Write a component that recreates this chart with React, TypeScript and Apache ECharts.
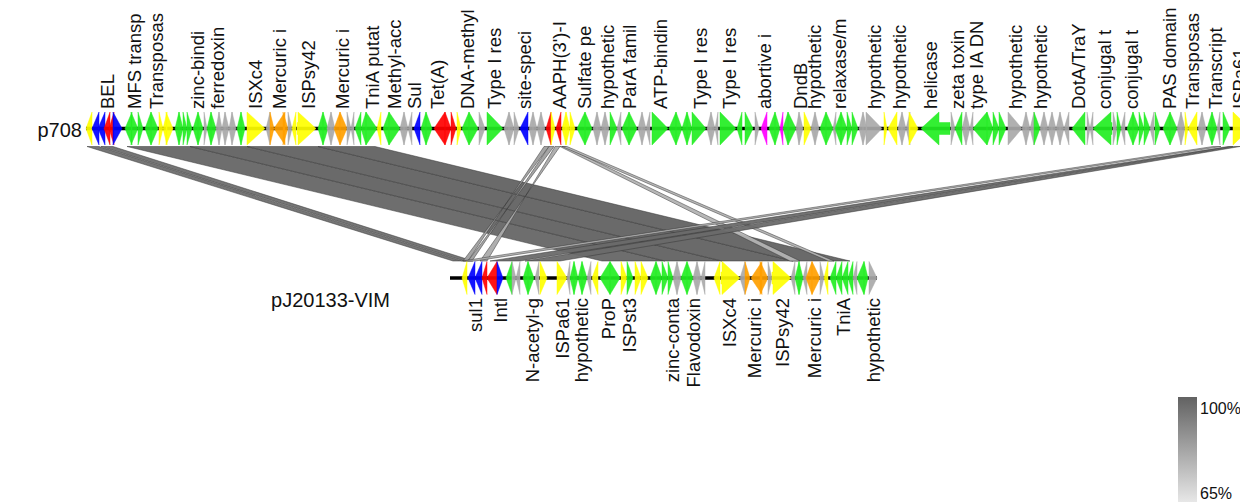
import React, { useEffect, useRef } from "react";
import * as echarts from "echarts";

// ---------- DATA (positions in kb along each plasmid) ----------
const trackNames = ["p708", "pJ20133-VIM"];
const trackLengths = [120, 42.5];

// [start kb, end kb, strand, colour key]
const topGenes: [number, number, number, string][] = [
  [0.0, 0.6, -1, "y"], [0.6, 1.3, -1, "b"], [1.2, 1.9, -1, "b"], [1.8, 2.4, -1, "r"], [2.3, 2.8, -1, "r"],
  [2.7, 3.6, 1, "b"], [3.9, 4.6, -1, "g"], [4.5, 5.2, 1, "g"], [5.2, 5.7, 1, "g"], [5.9, 6.5, -1, "g"],
  [6.5, 7.2, 1, "g"], [7.3, 7.7, 1, "y"], [7.7, 8.1, -1, "y"], [8.0, 8.7, 1, "y"], [8.9, 9.3, -1, "g"],
  [9.3, 9.7, 1, "g"], [9.7, 10.1, 1, "g"], [10.1, 10.6, 1, "g"], [10.7, 11.2, -1, "g"], [11.2, 11.7, 1, "g"],
  [11.8, 12.1, 1, "x"], [12.1, 12.5, -1, "g"], [12.5, 13.0, 1, "g"], [13.0, 13.3, -1, "x"], [13.3, 13.6, 1, "x"],
  [13.6, 13.9, -1, "x"], [13.9, 14.3, 1, "x"], [14.3, 14.6, -1, "x"], [14.6, 15.0, 1, "x"], [15.1, 15.5, -1, "g"],
  [15.5, 15.9, 1, "g"], [16.1, 17.9, 1, "y"], [18.0, 18.4, -1, "x"], [18.4, 18.8, 1, "o"], [18.8, 19.9, -1, "o"],
  [19.7, 20.2, 1, "o"], [20.2, 20.6, 1, "x"], [20.6, 21.0, -1, "y"], [21.1, 23.0, 1, "y"], [23.2, 23.7, -1, "g"],
  [23.7, 24.2, 1, "g"], [24.1, 24.5, -1, "x"], [24.5, 24.9, 1, "x"], [24.8, 25.4, -1, "o"], [25.4, 26.1, 1, "o"],
  [26.1, 26.5, 1, "x"], [26.5, 26.8, -1, "x"], [26.9, 27.5, -1, "g"], [27.5, 28.0, -1, "g"], [28.0, 29.1, 1, "g"],
  [29.1, 29.5, -1, "y"], [29.7, 30.3, -1, "g"], [30.3, 31.4, 1, "g"], [31.4, 31.8, -1, "x"], [31.8, 32.2, 1, "x"],
  [32.2, 32.6, -1, "x"], [32.8, 33.4, -1, "b"], [33.5, 34.0, -1, "g"], [34.0, 34.6, 1, "g"], [34.8, 35.9, -1, "r"],
  [35.9, 36.5, 1, "r"], [36.5, 37.0, 1, "r"], [37.1, 37.5, 1, "y"], [37.6, 38.3, -1, "g"], [38.3, 39.2, 1, "g"],
  [39.3, 39.9, 1, "x"], [40.1, 41.7, 1, "g"], [41.8, 42.3, -1, "x"], [42.3, 42.8, 1, "x"], [42.8, 43.3, 1, "x"],
  [43.4, 44.2, -1, "b"], [44.3, 44.7, -1, "x"], [44.7, 45.1, 1, "x"], [45.1, 45.5, -1, "x"], [45.5, 45.9, 1, "x"],
  [46.0, 46.5, -1, "r"], [46.5, 46.9, 1, "y"], [47.0, 47.5, -1, "r"], [47.6, 48.0, -1, "y"], [48.0, 48.4, 1, "y"],
  [48.4, 48.9, 1, "y"], [49.1, 49.9, -1, "g"], [49.9, 50.6, 1, "g"], [50.7, 51.1, -1, "x"], [51.1, 51.5, 1, "x"],
  [51.5, 51.9, -1, "x"], [51.9, 52.3, 1, "x"], [52.4, 53.1, 1, "g"], [53.1, 53.5, -1, "x"], [53.6, 54.3, -1, "g"],
  [54.3, 55.1, 1, "g"], [55.2, 55.6, -1, "x"], [55.6, 56.0, 1, "x"], [56.0, 56.4, -1, "x"], [56.6, 58.2, 1, "g"],
  [58.3, 59.0, -1, "g"], [59.0, 59.6, 1, "g"], [59.6, 60.1, -1, "g"], [60.1, 60.6, 1, "g"], [60.6, 62.0, 1, "g"],
  [62.1, 62.5, -1, "x"], [62.5, 62.9, 1, "x"], [62.9, 63.2, -1, "x"], [63.4, 65.0, 1, "g"], [65.1, 65.6, -1, "g"],
  [65.9, 66.7, 1, "g"], [66.9, 67.3, 1, "x"], [67.5, 68.1, -1, "m"], [68.3, 68.9, -1, "g"], [68.9, 69.4, 1, "g"],
  [69.4, 69.7, -1, "m"], [69.7, 70.2, -1, "g"], [70.2, 71.0, 1, "g"], [71.0, 71.3, -1, "x"], [71.3, 71.7, 1, "x"],
  [71.8, 72.5, 1, "y"], [72.5, 72.9, -1, "x"], [72.9, 73.3, 1, "x"], [73.4, 74.0, -1, "g"], [74.0, 74.7, 1, "g"],
  [74.7, 75.0, -1, "x"], [74.9, 75.5, -1, "g"], [75.5, 76.1, 1, "g"], [76.1, 76.6, 1, "g"], [76.6, 77.2, 1, "g"],
  [77.3, 77.7, -1, "x"], [77.7, 78.1, 1, "x"], [78.0, 79.6, 1, "x"], [79.8, 80.1, 1, "y"], [80.2, 81.1, -1, "y"],
  [81.2, 81.6, -1, "x"], [81.6, 82.0, 1, "x"], [82.0, 82.4, -1, "x"], [82.3, 83.2, 1, "y"], [83.5, 86.4, -1, "g"],
  [86.5, 86.9, 1, "x"], [86.9, 87.6, -1, "g"], [87.6, 88.0, -1, "x"], [88.0, 88.4, 1, "x"], [88.4, 88.7, -1, "x"],
  [88.7, 90.1, -1, "g"], [90.1, 90.7, 1, "g"], [90.7, 91.3, 1, "g"], [91.3, 92.0, 1, "g"], [92.2, 93.6, 1, "x"],
  [93.6, 94.0, -1, "x"], [94.0, 94.4, 1, "x"], [94.4, 94.8, -1, "x"], [94.8, 95.4, 1, "g"], [95.4, 95.8, -1, "x"],
  [95.8, 96.2, 1, "x"], [96.2, 96.6, -1, "x"], [96.6, 97.0, 1, "x"], [97.0, 97.4, -1, "x"], [97.4, 97.8, 1, "x"],
  [97.8, 98.3, -1, "x"], [98.6, 99.9, -1, "g"], [100.1, 100.4, 1, "x"], [100.4, 100.7, -1, "x"], [100.7, 102.6, -1, "g"],
  [102.7, 103.1, 1, "x"], [103.1, 103.5, 1, "g"], [103.5, 103.9, -1, "x"], [104.1, 104.7, -1, "g"], [104.7, 105.3, 1, "g"],
  [105.3, 105.8, 1, "g"], [105.8, 106.4, 1, "g"], [106.4, 106.8, -1, "x"], [106.9, 107.4, 1, "g"], [107.7, 108.4, -1, "g"],
  [108.4, 109.1, 1, "g"], [109.1, 109.5, -1, "x"], [109.5, 109.9, 1, "x"], [109.9, 110.2, 1, "y"], [110.2, 111.1, -1, "y"],
  [111.2, 111.6, -1, "x"], [111.6, 112.0, 1, "x"], [112.1, 112.6, -1, "g"], [112.6, 113.1, 1, "g"], [113.1, 113.4, -1, "x"],
  [113.7, 114.4, 1, "g"], [114.7, 116.4, 1, "y"],
];

const topLabels: [number, string][] = [
  [2.1, "BEL"], [4.8, "MFS transp"], [7.0, "Transposas"], [11.1, "zinc-bindi"], [13.1, "ferredoxin"],
  [16.9, "ISXc4"], [19.3, "Mercuric i"], [22.2, "ISPsy42"], [25.6, "Mercuric i"], [28.6, "TniA putat"],
  [30.8, "Methyl-acc"], [32.8, "Sul"], [35.1, "Tet(A)"], [38.1, "DNA-methyl"], [40.8, "Type I res"],
  [43.8, "site-speci"], [47.3, "AAPH(3')-I"], [49.8, "Sulfate pe"], [52.1, "hypothetic"], [54.3, "ParA famil"],
  [57.4, "ATP-bindin"], [61.4, "Type I res"], [64.3, "Type I res"], [67.8, "abortive i"], [71.4, "DndB"],
  [72.85, "hypothetic"], [75.3, "relaxase/m"], [78.8, "hypothetic"], [81.3, "hypothetic"], [84.4, "helicase"],
  [87.1, "zeta toxin"], [89.0, "type IA DN"], [92.9, "hypothetic"], [95.4, "hypothetic"], [99.2, "DotA/TraY"],
  [101.8, "conjugal t"], [104.5, "conjugal t"], [108.3, "PAS domain"], [110.6, "Transposas"], [112.9, "Transcript"],
  [115.3, "ISPa61"],
];

const bottomGenes: [number, number, number, string][] = [
  [1.0, 1.5, -1, "y"], [1.6, 2.3, -1, "b"], [2.3, 3.0, -1, "b"], [3.0, 3.5, -1, "r"], [3.5, 4.5, -1, "r"],
  [4.5, 5.1, 1, "b"], [5.4, 6.0, -1, "g"], [6.0, 6.4, 1, "x"], [6.4, 6.8, -1, "x"], [7.1, 7.6, -1, "g"],
  [7.6, 8.2, 1, "g"], [8.3, 8.7, -1, "x"], [8.8, 9.5, 1, "y"], [10.5, 11.5, 1, "y"], [11.5, 11.8, -1, "x"],
  [11.8, 12.2, -1, "g"], [12.2, 12.6, 1, "g"], [12.6, 13.0, -1, "g"], [13.0, 13.5, 1, "g"], [13.5, 13.9, -1, "x"],
  [14.0, 14.6, -1, "y"], [14.8, 15.8, -1, "g"], [15.8, 16.8, 1, "g"], [16.9, 17.5, 1, "y"], [17.5, 18.1, 1, "g"],
  [18.3, 18.9, 1, "y"], [18.9, 19.6, 1, "y"], [19.8, 20.4, -1, "g"], [20.4, 21.0, 1, "g"], [21.0, 21.6, 1, "g"],
  [21.6, 22.1, 1, "g"], [22.1, 22.5, -1, "x"], [22.5, 22.9, 1, "x"], [22.9, 23.5, -1, "g"], [23.5, 24.1, 1, "g"],
  [24.1, 24.5, -1, "x"], [24.5, 24.9, 1, "x"], [24.9, 25.3, -1, "x"], [26.2, 26.8, -1, "y"], [26.9, 28.8, 1, "y"],
  [28.8, 29.3, -1, "x"], [29.3, 29.8, 1, "o"], [29.9, 31.0, -1, "o"], [30.8, 31.6, 1, "o"], [31.6, 32.0, 1, "x"],
  [32.0, 33.9, 1, "y"], [33.9, 34.3, -1, "x"], [34.3, 34.7, -1, "g"], [34.7, 35.1, 1, "g"], [35.1, 35.5, -1, "x"],
  [35.4, 36.0, -1, "o"], [36.0, 36.8, 1, "o"], [36.8, 37.2, 1, "x"], [37.2, 37.6, -1, "y"], [37.8, 38.4, -1, "g"],
  [38.4, 39.0, -1, "g"], [39.0, 39.6, -1, "g"], [39.6, 40.1, -1, "g"], [40.1, 40.5, -1, "x"], [40.5, 41.2, -1, "g"],
  [41.2, 41.6, 1, "g"], [41.7, 42.5, 1, "x"],
];

const bottomLabels: [number, string][] = [
  [2.3, "sul1"], [4.8, "Intl"], [8.0, "N-acetyl-g"], [11.0, "ISPa61"], [12.9, "hypothetic"], [15.6, "ProP"],
  [17.7, "ISPst3"], [22.0, "zinc-conta"], [24.1, "Flavodoxin"], [27.7, "ISXc4"], [30.2, "Mercuric i"],
  [33.0, "ISPsy42"], [36.2, "Mercuric i"], [39.1, "TniA"], [42.1, "hypothetic"],
];

// BLAST hits: [top start, top end, bottom start, bottom end, identity %]
const links: [number, number, number, number, number][] = [
  [0.1, 1.3, 0.1, 1.0, 97], [1.5, 2.7, 1.2, 2.1, 97],
  [4.1, 10.4, 15.0, 21.3, 99], [10.4, 16.1, 21.3, 27.0, 100], [16.1, 23.2, 27.0, 34.1, 100], [23.2, 28.9, 34.1, 39.8, 100],
  [45.8, 46.3, 1.6, 1.1, 85], [46.3, 46.8, 2.0, 1.6, 85], [46.9, 47.4, 3.5, 2.8, 82], [47.4, 47.9, 33.8, 34.8, 80], [47.6, 48.1, 37.6, 38.2, 80],
  [114.2, 114.7, 3.8, 6.8, 98], [114.8, 115.4, 7.3, 10.8, 98], [112.7, 113.5, 1.0, 2.3, 80],
];

const legendTicks = ["100%", "65%"];
const identityRange = [65, 100];

// ---------- LAYOUT / STYLE ----------
const W = 1240, H = 502;
const GRID_LEFT = 86;
const BOTTOM_OFFSET = 36.6; // kb shift of the lower track against the upper one
const TOP_Y = 128.5, BOT_Y = 278;
const GENE_HALF = 16.5, SHAFT_HALF = 6, HEAD = 18;
const FONT = "Liberation Sans, Arial, Helvetica, sans-serif";
const COLORS: Record<string, string> = {
  g: "#22ee22", y: "#ffff00", b: "#0000ff", r: "#ff0000", o: "#ffa000", m: "#ff00ff", x: "#a9a9a9",
};
const DARK = [98, 98, 98], LIGHT = [240, 240, 240];

function identityColor(id: number) {
  const t = Math.max(0, Math.min(1, (id - identityRange[0]) / (identityRange[1] - identityRange[0])));
  const c = DARK.map((d, i) => Math.round(LIGHT[i] + (d - LIGHT[i]) * t));
  return `rgb(${c[0]},${c[1]},${c[2]})`;
}

function genePoints(x1: number, x2: number, cy: number, strand: number) {
  const h = GENE_HALF, s = SHAFT_HALF;
  if (x2 - x1 <= HEAD) {
    return strand > 0
      ? [[x1, cy - h], [x2, cy], [x1, cy + h]]
      : [[x2, cy - h], [x1, cy], [x2, cy + h]];
  }
  if (strand > 0)
    return [[x1, cy - s], [x2 - HEAD, cy - s], [x2 - HEAD, cy - h], [x2, cy], [x2 - HEAD, cy + h], [x2 - HEAD, cy + s], [x1, cy + s]];
  return [[x2, cy - s], [x1 + HEAD, cy - s], [x1 + HEAD, cy - h], [x1, cy], [x1 + HEAD, cy + h], [x1 + HEAD, cy + s], [x2, cy + s]];
}

function geneSeries(genes: [number, number, number, string][], offset: number, cy: number) {
  return {
    type: "custom",
    coordinateSystem: "cartesian2d",
    clip: false,
    z: 3,
    data: genes.map((g) => [g[0] + offset, g[1] + offset]),
    encode: { x: [0, 1] },
    renderItem: (params: any, api: any) => {
      const g = genes[params.dataIndex];
      const a = api.coord([api.value(0), cy]);
      const b = api.coord([api.value(1), cy]);
      const col = COLORS[g[3]];
      return {
        type: "polygon",
        shape: { points: genePoints(a[0], b[0], a[1], g[2]) },
        style: { fill: col, stroke: col, lineWidth: 0.5, opacity: 0.92 },
      };
    },
  };
}

function labelSeries(labels: [number, string][], offset: number, y: number, align: string) {
  return {
    type: "custom",
    coordinateSystem: "cartesian2d",
    clip: false,
    z: 4,
    data: labels.map((l) => [l[0] + offset, y]),
    encode: { x: 0, y: 1 },
    renderItem: (params: any, api: any) => {
      const p = api.coord([api.value(0), api.value(1)]);
      return {
        type: "text",
        x: p[0],
        y: p[1],
        rotation: Math.PI / 2,
        style: {
          text: labels[params.dataIndex][1],
          align,
          verticalAlign: "middle",
          font: `18.5px ${FONT}`,
          fill: "#111",
        },
      };
    },
  };
}

function trackLineSeries() {
  const rows = [
    [0, trackLengths[0], TOP_Y],
    [BOTTOM_OFFSET - 0.2, BOTTOM_OFFSET + trackLengths[1], BOT_Y],
  ];
  return {
    type: "custom",
    coordinateSystem: "cartesian2d",
    clip: false,
    z: 2,
    data: rows,
    encode: { x: [0, 1], y: 2 },
    renderItem: (_params: any, api: any) => {
      const a = api.coord([api.value(0), api.value(2)]);
      const b = api.coord([api.value(1), api.value(2)]);
      return {
        type: "line",
        shape: { x1: a[0], y1: a[1], x2: b[0], y2: b[1] },
        style: { stroke: "#000", lineWidth: 3.5 },
      };
    },
  };
}

function linkSeries() {
  const topEdge = TOP_Y + GENE_HALF + 1.5;
  const botEdge = BOT_Y - GENE_HALF - 0.5;
  return {
    type: "custom",
    coordinateSystem: "cartesian2d",
    clip: false,
    z: 1,
    data: links.map((l) => [l[0], l[1], l[2] + BOTTOM_OFFSET, l[3] + BOTTOM_OFFSET, l[4]]),
    encode: { x: [0, 1, 2, 3] },
    renderItem: (_params: any, api: any) => {
      const t1 = api.coord([api.value(0), topEdge]);
      const t2 = api.coord([api.value(1), topEdge]);
      const b2 = api.coord([api.value(3), botEdge]);
      const b1 = api.coord([api.value(2), botEdge]);
      const col = identityColor(api.value(4));
      return {
        type: "polygon",
        shape: { points: [t1, t2, b2, b1] },
        style: { fill: col, stroke: "rgba(55,55,55,0.75)", lineWidth: 0.7, opacity: 0.95 },
      };
    },
  };
}

export default function App() {
  const ref = useRef<HTMLDivElement>(null);
  useEffect(() => {
    if (!ref.current) return;
    const chart = echarts.init(ref.current, undefined, { renderer: "svg" });
    const xMax = (W - GRID_LEFT) / 10;
    const option: any = {
      animation: false,
      backgroundColor: "#ffffff",
      grid: { left: GRID_LEFT, right: 0, top: 0, bottom: 0 },
      xAxis: { type: "value", min: 0, max: xMax, show: false },
      yAxis: { type: "value", min: 0, max: H, inverse: true, show: false },
      series: [
        linkSeries(),
        trackLineSeries(),
        geneSeries(topGenes, 0, TOP_Y),
        geneSeries(bottomGenes, BOTTOM_OFFSET, BOT_Y),
        labelSeries(topLabels, 0, 109, "left"),
        labelSeries(bottomLabels, BOTTOM_OFFSET, 298, "right"),
      ],
      graphic: [
        {
          type: "text",
          style: { text: trackNames[0], x: 82, y: 130, align: "right", verticalAlign: "middle", font: `20px ${FONT}`, fill: "#111" },
        },
        {
          type: "text",
          style: { text: trackNames[1], x: 390, y: 300, align: "right", verticalAlign: "middle", font: `20px ${FONT}`, fill: "#111" },
        },
        {
          type: "rect",
          shape: { x: 1178, y: 397, width: 19, height: 112 },
          style: {
            fill: new echarts.graphic.LinearGradient(0, 0, 0, 1, [
              { offset: 0, color: identityColor(identityRange[1]) },
              { offset: 1, color: identityColor(identityRange[0]) },
            ]),
          },
        },
        {
          type: "text",
          style: { text: legendTicks[0], x: 1200, y: 408, align: "left", verticalAlign: "middle", font: `16px ${FONT}`, fill: "#111" },
        },
        {
          type: "text",
          style: { text: legendTicks[1], x: 1200, y: 493, align: "left", verticalAlign: "middle", font: `16px ${FONT}`, fill: "#111" },
        },
      ],
    };
    chart.setOption(option);
    return () => chart.dispose();
  }, []);
  return <div ref={ref} style={{ position: "absolute", left: 0, top: 0, width: W, height: H }} />;
}
